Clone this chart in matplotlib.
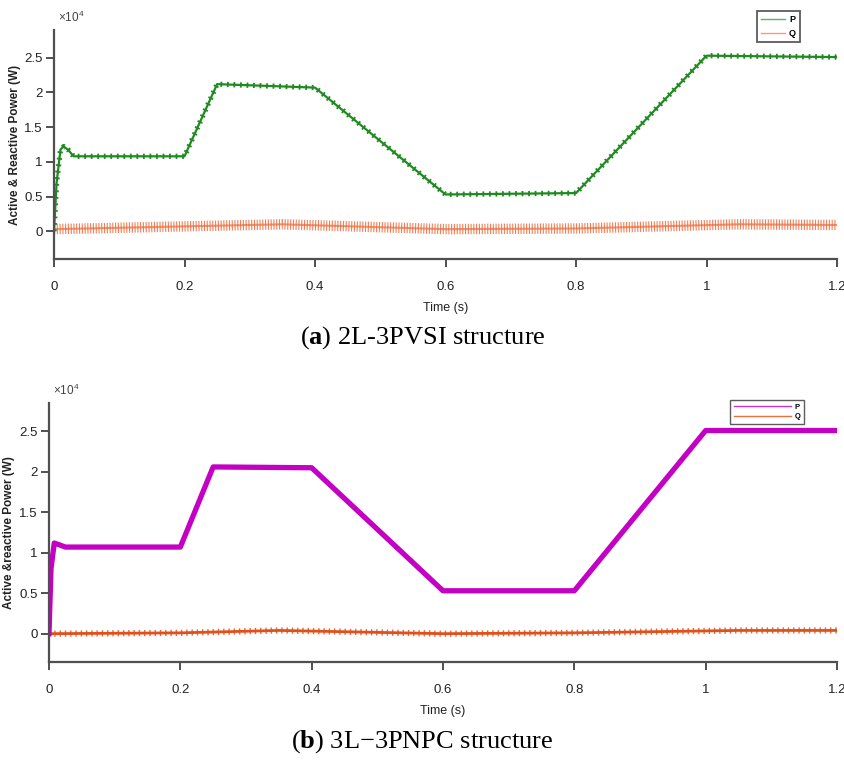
import matplotlib
matplotlib.use("Agg")
import matplotlib.pyplot as plt
from matplotlib.lines import Line2D
from matplotlib.ticker import FixedLocator, FuncFormatter

# Power values are in units of 1e4 W, time in seconds.
# (a) 2L-3PVSI: breakpoints of the active power P
t_p_2l = [0, 0.004, 0.01, 0.015, 0.022, 0.03, 0.2, 0.25, 0.4, 0.6, 0.8, 1.0, 1.2]
p_2l = [0, 0.70, 1.18, 1.22, 1.17, 1.08, 1.08, 2.12, 2.07, 0.53, 0.55, 2.53, 2.51]
# (a) reactive power Q (band centre)
t_q_2l = [0, 0.1, 0.35, 0.6, 0.8, 1.05, 1.2]
q_2l = [0.03, 0.05, 0.10, 0.03, 0.04, 0.10, 0.09]

# (b) 3L-3PNPC
t_p_3l = [0, 0.003, 0.008, 0.015, 0.025, 0.2, 0.25, 0.4, 0.6, 0.8, 1.0, 1.2]
p_3l = [0, 0.80, 1.12, 1.10, 1.07, 1.07, 2.06, 2.05, 0.53, 0.53, 2.51, 2.51]
t_q_3l = [0, 0.2, 0.35, 0.6, 0.8, 1.05, 1.2]
q_3l = [0.0, 0.01, 0.04, 0.0, 0.01, 0.04, 0.04]

xticks = [0, 0.2, 0.4, 0.6, 0.8, 1.0, 1.2]
yticks = [0, 0.5, 1, 1.5, 2, 2.5]

plt.rcParams["lines.scale_dashes"] = False
plt.rcParams["mathtext.fontset"] = "custom"
plt.rcParams["mathtext.rm"] = "Liberation Sans"
plt.rcParams["mathtext.bf"] = "Liberation Serif:bold"

tick_font = ["Liberation Sans Narrow", "Liberation Sans", "DejaVu Sans"]
axis_col = "#505050"

W, H = 845, 769
fig = plt.figure(figsize=(W / 100, H / 100), dpi=100)


def px_axes(left, top, right, bottom):
    return fig.add_axes([left / W, 1 - bottom / H, (right - left) / W, (bottom - top) / H])


def style_axes(ax, ylim, ylabel, label_x):
    ax.set_xlim(0, 1.2)
    ax.set_ylim(*ylim)
    for side in ("top", "right"):
        ax.spines[side].set_visible(False)
    for side in ("left", "bottom"):
        ax.spines[side].set_color(axis_col)
        ax.spines[side].set_linewidth(1.6)
    ax.xaxis.set_major_locator(FixedLocator(xticks))
    ax.yaxis.set_major_locator(FixedLocator(yticks))
    fmt = FuncFormatter(lambda v, pos: "%g" % v)
    ax.xaxis.set_major_formatter(fmt)
    ax.yaxis.set_major_formatter(fmt)
    ax.tick_params(direction="out", length=6, width=1.4, color=axis_col,
                   labelsize=9.5, labelcolor="#222222")
    ax.tick_params(axis="x", pad=10)
    ax.tick_params(axis="y", pad=2)
    for lab in ax.get_xticklabels() + ax.get_yticklabels():
        lab.set_family(tick_font)
    ax.set_xlabel("Time (s)", family=tick_font, fontsize=9, color="#222222", labelpad=6)
    ax.set_ylabel(ylabel, family="Liberation Sans", fontweight="bold", fontsize=8.5,
                  color="#222222")
    ax.yaxis.set_label_coords(label_x, 0.5)
    ax.text(0.005, 1.02, r"$\times\mathrm{10}^4$", transform=ax.transAxes, fontsize=8.5,
            color="#444444", ha="left", va="bottom")


def small_legend(handles, anchor, loc, size, hlen, spacing, frame_lw):
    leg = fig.legend(handles=handles, labels=["P", "Q"], loc=loc,
                     bbox_to_anchor=anchor, frameon=True, fancybox=False,
                     prop={"family": "Liberation Sans", "weight": "bold", "size": size},
                     handlelength=hlen, handletextpad=0.5, borderpad=0.45,
                     labelspacing=spacing, borderaxespad=0)
    leg.get_frame().set_edgecolor("#333333")
    leg.get_frame().set_linewidth(frame_lw)
    return leg


# ---- (a) 2L-3PVSI ----
ax1 = px_axes(54, 30, 837, 259)
style_axes(ax1, (-0.4, 2.9), "Active & Reactive Power (W)", (21 - 54) / 783)
q_col_a = "#ee6a3a"
ax1.plot(t_q_2l, q_2l, color=q_col_a, lw=7.5, dashes=(0.8, 1.2), alpha=0.85)
ax1.plot(t_q_2l, q_2l, color=q_col_a, lw=1.5, alpha=0.7)
p_col_a = "#1f8a1f"
ax1.plot(t_p_2l, p_2l, color=p_col_a, lw=1.6)
ax1.plot(t_p_2l, p_2l, color=p_col_a, lw=3.8, dashes=(1.3, 3.4))

small_legend([Line2D([], [], color="#58b858", lw=1), Line2D([], [], color="#f59a80", lw=1)],
             (757 / W, 1 - 11 / H), "upper left", 6.5, 2.6, 0.55, 1.3)

fig.text(0.5, 1 - 338 / H, r"($\mathbf{a}$) 2L-3PVSI structure", ha="center", va="center",
         family="Liberation Serif", fontsize=19)

# ---- (b) 3L-3PNPC ----
ax2 = px_axes(49, 403, 837, 662)
style_axes(ax2, (-0.35, 2.85), "Active &reactive Power (W)", (15 - 49) / 788)
q_col_b = "#e0501a"
ax2.plot(t_q_3l, q_3l, color=q_col_b, lw=4.5, dashes=(1.0, 2.8), alpha=0.85)
ax2.plot(t_q_3l, q_3l, color=q_col_b, lw=2.0)
p_col_b = "#c400c4"
ax2.plot(t_p_3l, p_3l, color=p_col_b, lw=3.8)

small_legend([Line2D([], [], color="#cc33cc", lw=1), Line2D([], [], color="#e8703a", lw=1)],
             (804 / W, 1 - 400 / H), "upper right", 5.5, 7.5, 0.3, 1.0)

fig.text(0.5, 1 - 742 / H, "($\\mathbf{b}$) 3L\u22123PNPC structure", ha="center", va="center",
         family="Liberation Serif", fontsize=19)

fig.savefig("out.png", dpi=100, facecolor="white")
